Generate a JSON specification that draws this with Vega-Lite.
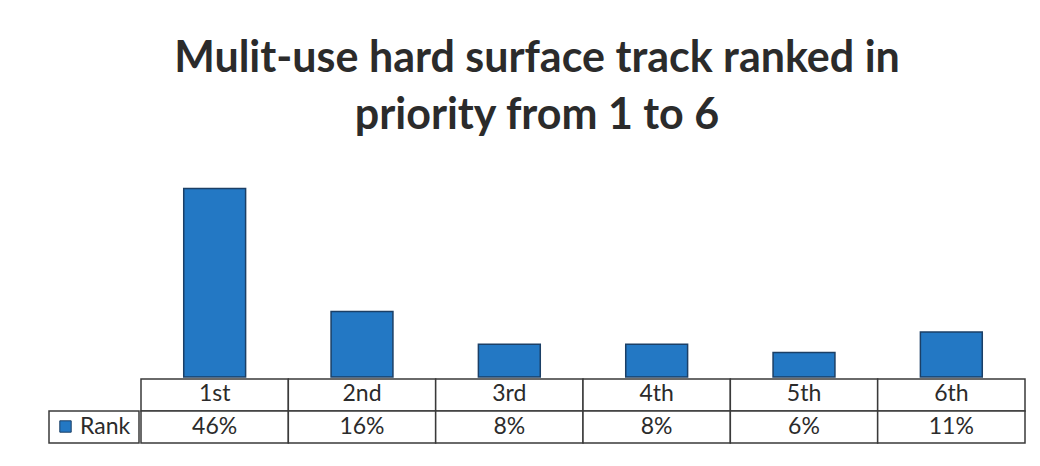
{
  "$schema": "https://vega.github.io/schema/vega-lite/v6.json",
  "padding": {"left": 48, "top": 38, "right": 18, "bottom": 24},
  "background": "white",
  "title": {
    "text": ["Mulit-use hard surface track ranked in", "priority from 1 to 6"],
    "font": "Lato",
    "fontSize": 43,
    "fontWeight": "bold",
    "lineHeight": 57,
    "color": "#2b2b2b",
    "anchor": "middle",
    "offset": 34
  },
  "datasets": {
    "ranks": [
      {"rank": "1st", "pct": 0.46, "series": "Rank"},
      {"rank": "2nd", "pct": 0.16, "series": "Rank"},
      {"rank": "3rd", "pct": 0.08, "series": "Rank"},
      {"rank": "4th", "pct": 0.08, "series": "Rank"},
      {"rank": "5th", "pct": 0.06, "series": "Rank"},
      {"rank": "6th", "pct": 0.11, "series": "Rank"}
    ],
    "legendcell": [{"series": "Rank"}]
  },
  "columns": 2,
  "spacing": 0,
  "concat": [
    {
      "width": 90,
      "height": 205,
      "data": {"values": []},
      "mark": "point",
      "encoding": {}
    },
    {
      "width": 884,
      "height": 205,
      "data": {"name": "ranks"},
      "mark": {"type": "bar", "stroke": "#1b3f66", "strokeWidth": 1.5, "width": {"band": 0.42}},
      "encoding": {
        "x": {"field": "rank", "type": "nominal", "sort": null, "axis": null,
               "scale": {"paddingInner": 0, "paddingOuter": 0}},
        "y": {"field": "pct", "type": "quantitative", "axis": null,
               "scale": {"domain": [0, 0.5], "nice": false}},
        "color": {"field": "series", "type": "nominal",
                   "scale": {"range": ["#2378c4"]},
                   "legend": {"orient": "none", "legendX": 5, "legendY": 243, "title": null,
                              "symbolType": "square", "symbolSize": 130, "symbolStrokeColor": "#1b3f66",
                              "symbolStrokeWidth": 1, "symbolFillColor": "#2378c4",
                              "labelFont": "Lato", "labelFontSize": 23, "labelColor": "#2b2b2b",
                              "labelOffset": 3, "padding": 0}}
      }
    },
    {
      "width": 90,
      "height": 64,
      "data": {"name": "legendcell"},
      "layer": [
        {
          "mark": {"type": "rect", "fill": "white", "stroke": "#3a3a3a", "strokeWidth": 1.5},
          "encoding": {
            "y": {"datum": "val", "type": "nominal", "axis": null,
                   "scale": {"domain": ["cat", "val"], "paddingInner": 0, "paddingOuter": 0}}
          }
        }
      ]
    },
    {
      "width": 884,
      "height": 64,
      "data": {"name": "ranks"},
      "encoding": {
        "x": {"field": "rank", "type": "nominal", "sort": null, "axis": null,
               "scale": {"paddingInner": 0, "paddingOuter": 0}}
      },
      "layer": [
        {
          "mark": {"type": "rect", "fill": "white", "stroke": "#3a3a3a", "strokeWidth": 1.5},
          "encoding": {
            "y": {"datum": "cat", "type": "nominal", "axis": null,
                   "scale": {"domain": ["cat", "val"], "paddingInner": 0, "paddingOuter": 0}}
          }
        },
        {
          "mark": {"type": "rect", "fill": "white", "stroke": "#3a3a3a", "strokeWidth": 1.5},
          "encoding": {"y": {"datum": "val", "type": "nominal"}}
        },
        {
          "mark": {"type": "text", "font": "Lato", "fontSize": 23, "color": "#2b2b2b", "dy": -1},
          "encoding": {"y": {"datum": "cat", "type": "nominal"}, "text": {"field": "rank"}}
        },
        {
          "mark": {"type": "text", "font": "Lato", "fontSize": 23, "color": "#2b2b2b"},
          "encoding": {"y": {"datum": "val", "type": "nominal"}, "text": {"field": "pct", "format": ".0%"}}
        }
      ]
    }
  ],
  "config": {"view": {"stroke": null}}
}
